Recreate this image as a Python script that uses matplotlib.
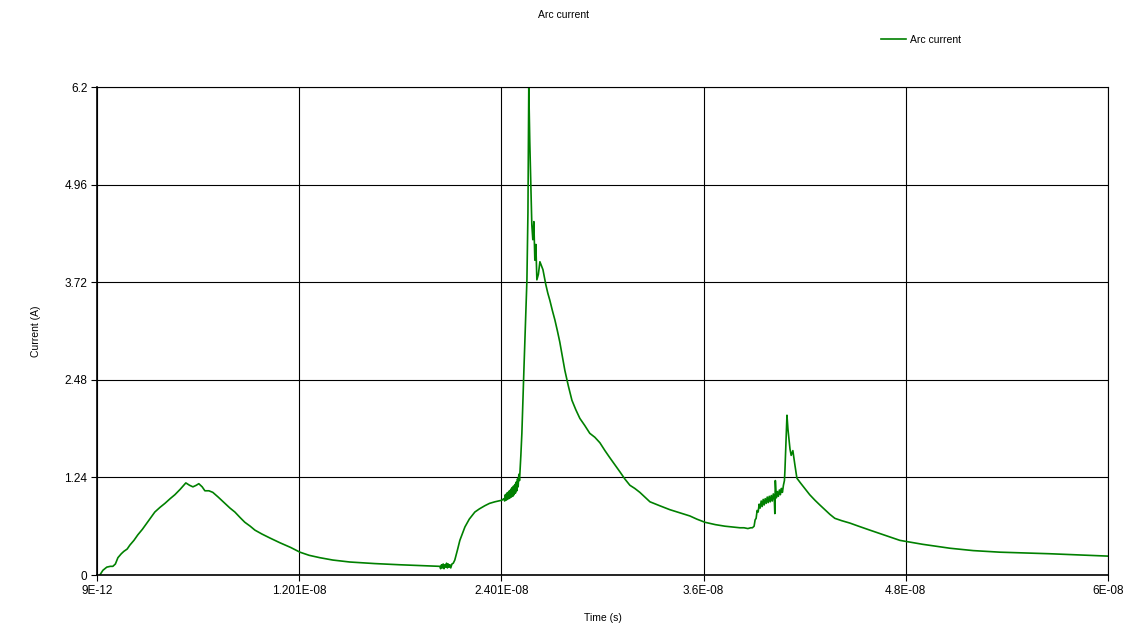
import matplotlib
matplotlib.use("Agg")
import matplotlib.pyplot as plt
import numpy as np

# Time in ns, current in A, split into consecutive segments
seg1_t = [0.18, 0.36, 0.59, 0.80, 0.95, 1.10, 1.25, 1.45, 1.60, 1.80, 1.96, 2.20, 2.43, 2.70,
          2.97, 3.20, 3.44, 3.75, 4.04, 4.35, 4.63, 4.95, 5.28, 5.50, 5.70, 5.90, 6.05, 6.25,
          6.41, 6.65, 6.88, 7.20, 7.60, 7.90, 8.19, 8.50, 8.78, 9.10, 9.38, 9.80, 10.27,
          10.86, 11.50, 12.05, 12.60, 13.23, 14.00, 15.01, 16.50, 17.98, 19.20, 20.35]
seg1_i = [0.00, 0.06, 0.10, 0.11, 0.11, 0.14, 0.22, 0.27, 0.30, 0.33, 0.38, 0.44, 0.51, 0.58,
          0.66, 0.73, 0.80, 0.86, 0.91, 0.97, 1.02, 1.09, 1.17, 1.14, 1.12, 1.14, 1.16, 1.12,
          1.07, 1.07, 1.05, 0.99, 0.91, 0.85, 0.80, 0.73, 0.67, 0.62, 0.57, 0.52, 0.47,
          0.41, 0.35, 0.29, 0.25, 0.22, 0.19, 0.165, 0.145, 0.13, 0.12, 0.11]

seg2_t = [20.40, 20.45, 20.50, 20.55, 20.60, 20.65, 20.70, 20.75, 20.80, 20.85, 20.90, 20.95,
          21.00, 21.07, 21.15, 21.24, 21.40, 21.54, 21.70, 21.84, 22.10, 22.43, 22.70, 23.02,
          23.30, 23.62, 24.03, 24.15]
seg2_i = [0.08, 0.13, 0.09, 0.14, 0.08, 0.13, 0.10, 0.15, 0.09, 0.14, 0.10, 0.13,
          0.09, 0.14, 0.15, 0.19, 0.32, 0.44, 0.53, 0.61, 0.71, 0.80, 0.84, 0.88,
          0.91, 0.93, 0.95, 0.97]

seg3_t = [24.20, 24.24, 24.28, 24.32, 24.36, 24.40, 24.44, 24.48, 24.52, 24.56, 24.60, 24.64,
          24.68, 24.72, 24.76, 24.80, 24.84, 24.88, 24.92, 24.96, 25.00, 25.04, 25.08]
seg3_i = [0.94, 1.02, 0.95, 1.04, 0.96, 1.05, 0.97, 1.07, 0.98, 1.09, 0.99, 1.11,
          1.00, 1.13, 1.02, 1.15, 1.04, 1.18, 1.07, 1.22, 1.12, 1.28, 1.20]

seg4_t = [25.16, 25.22, 25.28, 25.34, 25.40, 25.46, 25.52, 25.58, 25.63, 25.69, 25.75,
          25.81, 25.87, 25.93, 25.99, 26.05, 26.11, 26.20, 26.29, 26.38, 26.47, 26.56,
          26.64, 26.76, 26.88, 27.03, 27.18, 27.33, 27.47, 27.62, 27.77, 27.98, 28.19,
          28.42, 28.66, 28.95, 29.25, 29.55, 29.85, 30.15, 30.44, 30.74, 31.04, 31.33,
          31.63, 31.92, 32.22, 32.52, 32.82, 33.40, 34.00, 34.60, 35.19, 35.60, 36.08,
          36.70, 37.27, 37.70, 38.16, 38.40, 38.63, 38.80]
seg4_i = [1.52, 1.80, 2.22, 2.60, 2.99, 3.35, 3.75, 4.60, 6.20, 5.50, 5.00,
          4.45, 4.26, 4.49, 4.00, 4.20, 3.75, 3.82, 3.98, 3.93, 3.88, 3.78,
          3.69, 3.58, 3.49, 3.36, 3.24, 3.10, 2.96, 2.78, 2.60, 2.40, 2.22,
          2.10, 1.99, 1.90, 1.80, 1.75, 1.68, 1.58, 1.49, 1.40, 1.31, 1.22,
          1.14, 1.10, 1.05, 0.99, 0.93, 0.88, 0.83, 0.79, 0.75, 0.71, 0.67,
          0.64, 0.62, 0.61, 0.60, 0.60, 0.59, 0.60]

seg5_t = [38.90, 39.00, 39.06, 39.12, 39.18, 39.24, 39.30, 39.36, 39.42, 39.48, 39.54, 39.60,
          39.66, 39.72, 39.78, 39.84, 39.90, 39.96, 40.02, 40.08, 40.14, 40.20, 40.23,
          40.26, 40.32, 40.38, 40.44, 40.50, 40.56, 40.62, 40.68, 40.74, 40.80]
seg5_i = [0.60, 0.62, 0.70, 0.72, 0.82, 0.80, 0.90, 0.85, 0.94, 0.87, 0.96, 0.89,
          0.97, 0.91, 0.99, 0.92, 1.00, 0.93, 1.01, 0.94, 1.03, 0.96, 0.78,
          1.20, 0.98, 1.06, 1.00, 1.08, 1.02, 1.10, 1.05, 1.14, 1.20]

seg6_t = [40.83, 40.89, 40.95, 41.01, 41.07, 41.13, 41.20, 41.30, 41.42, 41.54, 41.75,
          42.01, 42.30, 42.61, 42.90, 43.20, 43.50, 43.79, 44.20, 44.68, 45.20, 45.87,
          46.70, 47.65, 49.00, 50.62, 52.00, 53.58, 55.00, 56.55, 58.30, 60.00]
seg6_i = [1.33, 1.70, 2.03, 1.85, 1.72, 1.60, 1.52, 1.58, 1.40, 1.23, 1.17,
          1.10, 1.02, 0.95, 0.89, 0.83, 0.77, 0.72, 0.69, 0.66, 0.62, 0.57,
          0.51, 0.44, 0.39, 0.34, 0.31, 0.29, 0.28, 0.27, 0.255, 0.24]

x_ticks = [9e-12, 1.201e-08, 2.401e-08, 3.6e-08, 4.8e-08, 6e-08]
x_tick_labels = ["9E-12", "1.201E-08", "2.401E-08", "3.6E-08", "4.8E-08", "6E-08"]
y_ticks = [0, 1.24, 2.48, 3.72, 4.96, 6.2]
y_tick_labels = ["0", "1.24", "2.48", "3.72", "4.96", "6.2"]

plt.rcParams['font.family'] = ['Liberation Sans', 'DejaVu Sans']

W, H = 1141, 632
fig = plt.figure(figsize=(W / 100, H / 100), dpi=100)
ax = fig.add_axes([97 / W, 1 - 575 / H, (1108 - 97) / W, (575 - 87) / H])

time_ns = seg1_t + seg2_t + seg3_t + seg4_t + seg5_t + seg6_t
current_a = seg1_i + seg2_i + seg3_i + seg4_i + seg5_i + seg6_i
t = np.array(time_ns) * 1e-9
ax.plot(t, current_a, color="#008000", lw=1.2, label="Arc current")

ax.set_xlim(9e-12, 6e-08)
ax.set_ylim(0, 6.2)
ax.set_xticks(x_ticks)
ax.set_xticklabels(x_tick_labels)
ax.set_yticks(y_ticks)
ax.set_yticklabels(y_tick_labels)
ax.tick_params(axis='both', labelsize=8.5, length=4, width=0.8, color='black', pad=3)
ax.grid(True, color='black', linewidth=0.8)
ax.set_axisbelow(True)
for s in ax.spines.values():
    s.set_color('black')
    s.set_linewidth(0.8)
ax.spines['bottom'].set_linewidth(1.2)
ax.spines['left'].set_linewidth(1.2)

ax.set_xlabel("Time (s)", fontsize=7.5, labelpad=12)
ax.set_ylabel("Current (A)", fontsize=7.5, labelpad=17)
fig.text(563 / W, 1 - 15 / H, "Arc current", ha='center', va='center', fontsize=7.5)
ax.legend(loc='center left', bbox_to_anchor=(876 / W, 1 - 40 / H),
          bbox_transform=fig.transFigure, frameon=False, fontsize=7.5,
          handlelength=2.4, handletextpad=0.4, borderpad=0)

fig.savefig("out.png", dpi=100)
